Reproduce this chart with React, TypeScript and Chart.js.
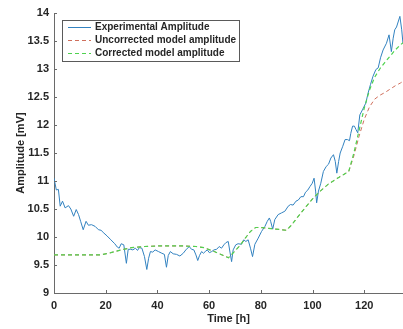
import React, { useEffect, useRef } from "react";
import { Chart, registerables } from "chart.js";

Chart.register(...registerables);

const FONT = "'Liberation Sans', Arial, sans-serif";
const AXIS_COLOR = "#6a6a6a";
const TEXT_COLOR = "#262626";

// Experimental amplitude (time [h], amplitude [mV])
const expTime = [
  0, 0.9, 1.7, 2.4, 3.3, 4.3, 5.6, 6.5, 7.6, 8.6, 9.5, 10.3, 11.3, 12.4, 13.3, 14.5, 15.9, 17.2, 18.2, 19.3,
  20.5, 22, 23.5, 24.5, 25.2, 26, 27, 28, 28.7, 29.6, 30.5, 31.5, 32.3, 33, 34, 35, 35.9, 36.6, 37.3, 38.2,
  39.1, 40.4, 41.7, 42.7, 43.5, 44.2, 45, 46.1, 47.4, 48.7, 50, 51, 52.3, 53.2, 54.1, 54.9, 55.6, 56.3, 57.1, 57.8,
  58.5, 59.3, 60.1, 61, 61.9, 62.9, 63.9, 64.8, 65.7, 66.5, 67.4, 68, 68.7, 69.3, 70.3, 71.2, 72.5, 73.4, 74.2, 75.1,
  76, 76.8, 77.7, 79, 80.3, 81.6, 82.5, 83.3, 83.8, 84.6, 85.4, 86.7, 88, 89.3, 90.6, 91.5, 92.5, 93.6, 94.5, 95.5,
  96.5, 97.3, 98.2, 99, 99.9, 100.6, 101.2, 101.6, 102.3, 103.2, 104.2, 105.3, 106.2, 107.1, 108.1, 108.8, 109.4, 110.1, 110.7, 111.7,
  112.6, 113.5, 114.3, 114.8, 115.5, 116.2, 116.8, 117.5, 118.3, 119.3, 120.6, 121.5, 122.4, 123.4, 124.5, 125.4, 126.3, 127.3, 128.6, 129.6,
  130.5, 131.2, 131.8, 132.5, 133.8, 134.5, 135,
];
const expAmp = [
  11.05, 10.84, 10.85, 10.55, 10.64, 10.52, 10.56, 10.5, 10.37, 10.49, 10.4, 10.28, 10.13, 10.28, 10.21, 10.22, 10.19, 10.13, 10.12, 10.07,
  10.02, 9.95, 9.88, 9.82, 9.8, 9.88, 9.86, 9.53, 9.78, 9.78, 9.77, 9.8, 9.76, 9.81, 9.8, 9.65, 9.42, 9.62, 9.74, 9.73,
  9.77, 9.74, 9.71, 9.69, 9.46, 9.67, 9.74, 9.7, 9.69, 9.66, 9.71, 9.77, 9.83, 9.78, 9.77, 9.68, 9.58, 9.67, 9.74, 9.71,
  9.74, 9.77, 9.72, 9.74, 9.77, 9.78, 9.83, 9.8, 9.86, 9.9, 9.92, 9.75, 9.56, 9.77, 9.86, 9.88, 9.87, 9.95, 9.92, 9.95,
  9.8, 9.65, 9.87, 9.98, 10.1, 10.19, 10.28, 10.34, 10.28, 10.14, 10.31, 10.4, 10.43, 10.46, 10.55, 10.58, 10.57, 10.64, 10.66, 10.72,
  10.72, 10.8, 10.84, 10.9, 10.96, 11.05, 10.82, 10.61, 10.82, 10.96, 11.17, 11.26, 11.3, 11.41, 11.47, 11.35, 11.14, 11.35, 11.5, 11.62,
  11.74, 11.74, 11.72, 11.85, 11.98, 11.98, 11.92, 11.86, 12.18, 12.27, 12.39, 12.57, 12.72, 12.87, 12.99, 13.02, 13.2, 13.34, 13.46, 13.61,
  13.31, 13.55, 13.7, 13.75, 13.94, 13.7, 13.45,
];

// Model curves (time [h], amplitude [mV])
const modelTime = [
  0, 5, 10, 15, 18, 22, 26, 30, 35, 40, 45, 50, 55, 58, 62, 66, 67.5, 70, 72, 74, 76, 78, 80, 84, 88,
  90, 92, 95, 98, 100, 103, 106, 110, 114, 116, 118, 120, 122, 124, 126, 128, 130, 132, 134, 135,
];
const uncorrectedAmp = [
  9.68, 9.68, 9.68, 9.68, 9.68, 9.72, 9.77, 9.81, 9.83, 9.84, 9.84, 9.84, 9.83, 9.81, 9.74, 9.66, 9.63, 9.75, 9.85, 9.98, 10.1, 10.17, 10.17, 10.15, 10.13,
  10.12, 10.22, 10.4, 10.57, 10.68, 10.82, 10.94, 11.06, 11.17, 11.45, 11.8, 12.1, 12.32, 12.46, 12.53, 12.58, 12.64, 12.7, 12.75, 12.78,
];
const correctedAmp = [
  9.68, 9.68, 9.68, 9.68, 9.68, 9.72, 9.77, 9.81, 9.83, 9.84, 9.84, 9.84, 9.83, 9.81, 9.74, 9.66, 9.63, 9.75, 9.85, 9.98, 10.1, 10.17, 10.17, 10.15, 10.13,
  10.12, 10.22, 10.4, 10.57, 10.68, 10.82, 10.94, 11.06, 11.17, 11.5, 11.9, 12.3, 12.62, 12.85, 13.0, 13.12, 13.23, 13.34, 13.43, 13.47,
];

const xTicks = [0, 20, 40, 60, 80, 100, 120];
const yTicks = [9, 9.5, 10, 10.5, 11, 11.5, 12, 12.5, 13, 13.5, 14];

const seriesLabels = ["Experimental Amplitude", "Uncorrected model amplitude", "Corrected model amplitude"];

const insideTicks = {
  id: "insideTicks",
  afterDatasetsDraw(chart: any) {
    const { ctx, chartArea, scales } = chart;
    ctx.save();
    ctx.strokeStyle = AXIS_COLOR;
    ctx.lineWidth = 1;
    ctx.beginPath();
    scales.x.ticks.forEach((t: any) => {
      const px = Math.round(scales.x.getPixelForValue(t.value)) + 0.5;
      ctx.moveTo(px, chartArea.bottom);
      ctx.lineTo(px, chartArea.bottom - 3);
    });
    scales.y.ticks.forEach((t: any) => {
      const py = Math.round(scales.y.getPixelForValue(t.value)) + 0.5;
      ctx.moveTo(chartArea.left, py);
      ctx.lineTo(chartArea.left + 3, py);
    });
    ctx.stroke();
    ctx.restore();
  },
};

const boxLegend = {
  id: "boxLegend",
  afterDraw(chart: any) {
    const ctx = chart.ctx;
    const x = 62.5, y = 20.5, w = 177, h = 41;
    ctx.save();
    ctx.fillStyle = "#ffffff";
    ctx.fillRect(x, y, w, h);
    ctx.strokeStyle = "#5a5a5a";
    ctx.lineWidth = 1;
    ctx.strokeRect(x, y, w, h);
    const rowsY = [27.5, 40.5, 53.5];
    chart.data.datasets.forEach((ds: any, i: number) => {
      const ry = rowsY[i];
      ctx.beginPath();
      ctx.setLineDash(ds.borderDash || []);
      ctx.strokeStyle = ds.borderColor;
      ctx.lineWidth = 1;
      ctx.moveTo(68, ry);
      ctx.lineTo(91, ry);
      ctx.stroke();
      ctx.setLineDash([]);
      ctx.fillStyle = TEXT_COLOR;
      ctx.font = `bold 10px ${FONT}`;
      ctx.textBaseline = "middle";
      ctx.textAlign = "left";
      ctx.fillText(ds.label, 95, ry);
    });
    ctx.restore();
  },
};

export default function App() {
  const canvasRef = useRef<HTMLCanvasElement>(null);

  useEffect(() => {
    const canvas = canvasRef.current;
    if (!canvas) return;
    const chart = new Chart(canvas, {
      type: "line",
      data: {
        datasets: [
          {
            label: seriesLabels[0],
            data: expTime.map((t, i) => ({ x: t, y: expAmp[i] })),
            borderColor: "#3282c0",
            borderWidth: 1,
            pointRadius: 0,
            fill: false,
            order: 3,
          },
          {
            label: seriesLabels[1],
            data: modelTime.map((t, i) => ({ x: t, y: uncorrectedAmp[i] })),
            borderColor: "#cf6f5c",
            borderWidth: 1,
            borderDash: [4, 3],
            pointRadius: 0,
            fill: false,
            order: 2,
          },
          {
            label: seriesLabels[2],
            data: modelTime.map((t, i) => ({ x: t, y: correctedAmp[i] })),
            borderColor: "#4fd24f",
            borderWidth: 1.2,
            borderDash: [4, 3],
            pointRadius: 0,
            fill: false,
            order: 1,
          },
        ],
      },
      options: {
        animation: false,
        responsive: false,
        devicePixelRatio: 1,
        layout: { padding: { top: 13, right: 0, bottom: 0, left: 0 } },
        plugins: {
          legend: { display: false },
          tooltip: { enabled: false },
        },
        scales: {
          x: {
            type: "linear",
            min: 0,
            max: 135,
            afterBuildTicks: (scale: any) => {
              scale.ticks = xTicks.map((v) => ({ value: v }));
            },
            afterFit: (scale: any) => {
              scale.height = 36;
            },
            grid: { display: false, drawTicks: false },
            border: { display: true, color: AXIS_COLOR, width: 1 },
            ticks: {
              padding: 6,
              color: TEXT_COLOR,
              font: { family: FONT, size: 11, weight: "bold" },
              maxRotation: 0,
            },
            title: {
              display: true,
              text: "Time [h]",
              color: TEXT_COLOR,
              font: { family: FONT, size: 11, weight: "bold" },
              padding: { top: 0, bottom: 3 },
            },
          },
          y: {
            type: "linear",
            min: 9,
            max: 14,
            afterBuildTicks: (scale: any) => {
              scale.ticks = yTicks.map((v) => ({ value: v }));
            },
            afterFit: (scale: any) => {
              scale.width = 54;
            },
            grid: { display: false, drawTicks: false },
            border: { display: true, color: AXIS_COLOR, width: 1 },
            ticks: {
              padding: 5,
              color: TEXT_COLOR,
              font: { family: FONT, size: 11, weight: "bold" },
              callback: (v: any) => String(v),
            },
            title: {
              display: true,
              text: "Amplitude [mV]",
              color: TEXT_COLOR,
              font: { family: FONT, size: 11, weight: "bold" },
              padding: { top: 14, bottom: 0 },
            },
          },
        },
      },
      plugins: [insideTicks, boxLegend],
    });
    return () => chart.destroy();
  }, []);

  return (
    <div style={{ position: "absolute", left: 0, top: 0, width: 403, height: 329, background: "#fff" }}>
      <canvas ref={canvasRef} width={403} height={329} style={{ width: 403, height: 329, display: "block" }} />
    </div>
  );
}
